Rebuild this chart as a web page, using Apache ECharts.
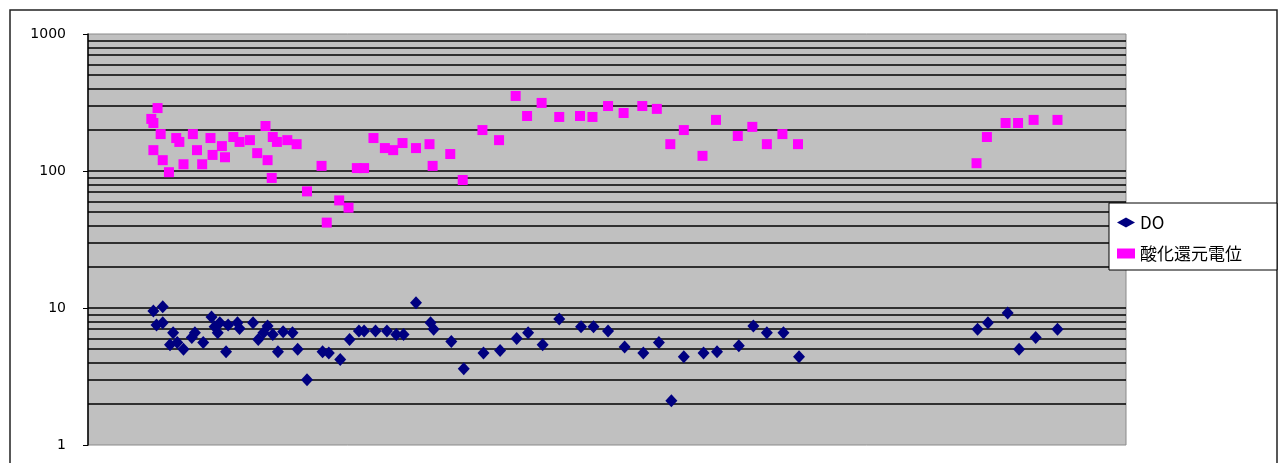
<!DOCTYPE html>
<html>
<head>
<meta charset="utf-8">
<script src="https://cdn.jsdelivr.net/npm/echarts@6/dist/echarts.min.js"></script>
<style>
html,body{margin:0;padding:0;background:#fff;}
#chart{width:1286px;height:463px;}
</style>
</head>
<body>
<div id="chart"></div>
<script>
// Series names
const seriesNames = ['DO', '酸化還元電位'];

// DO (sample position, value)
const doX = [6.3, 7.2, 6.6, 7.2, 8.2, 8.6, 7.9, 9.2, 10.3, 10.0, 11.1, 11.9, 12.2, 12.5, 12.7, 13.3, 13.5, 14.4, 14.6, 15.9, 16.4, 16.9, 17.3, 17.8, 18.8, 19.7, 18.3, 20.2, 21.1, 22.6, 23.2, 24.3, 25.2, 26.1, 26.6, 27.7, 28.8, 29.7, 30.4, 31.6, 33.0, 33.3, 35.0, 36.2, 38.1, 39.7, 41.3, 42.4, 43.8, 45.4, 47.5, 48.7, 50.1, 51.7, 53.5, 55.0, 56.2, 57.4, 59.3, 60.6, 62.7, 64.1, 65.4, 67.0, 68.5, 85.7, 86.7, 88.6, 89.7, 91.3, 93.4];
const doY = [9.5, 10.2, 7.5, 7.8, 6.6, 5.6, 5.4, 5.0, 6.6, 6.1, 5.6, 8.6, 7.3, 6.6, 7.8, 4.8, 7.5, 7.8, 7.1, 7.8, 5.9, 6.6, 7.4, 6.4, 6.7, 6.6, 4.8, 5.0, 3.0, 4.8, 4.7, 4.2, 5.9, 6.8, 6.8, 6.8, 6.8, 6.4, 6.4, 10.9, 7.8, 7.0, 5.7, 3.6, 4.7, 4.9, 6.0, 6.6, 5.4, 8.3, 7.3, 7.3, 6.8, 5.2, 4.7, 5.6, 2.1, 4.4, 4.7, 4.8, 5.3, 7.4, 6.6, 6.6, 4.4, 7.0, 7.8, 9.2, 5.0, 6.1, 7.0];

// 酸化還元電位 (sample position, value)
const orpX = [6.1, 6.3, 6.7, 6.3, 7.0, 7.2, 7.8, 8.5, 8.8, 9.2, 10.1, 10.5, 11.0, 11.8, 12.0, 12.9, 13.2, 14.0, 14.6, 15.6, 16.3, 17.1, 17.3, 17.8, 18.2, 17.7, 19.2, 20.1, 21.1, 22.5, 23.0, 24.2, 25.1, 25.9, 26.6, 27.5, 28.6, 29.4, 30.3, 31.6, 32.9, 33.2, 34.9, 36.1, 38.0, 39.6, 41.2, 42.3, 43.7, 45.4, 47.4, 48.6, 50.1, 51.6, 53.4, 54.8, 56.1, 57.4, 59.2, 60.5, 62.6, 64.0, 65.4, 66.9, 68.4, 85.6, 86.6, 88.4, 89.6, 91.1, 93.4];
const orpY = [240, 224, 288, 142, 186, 120, 98, 174, 163, 112, 186, 142, 112, 174, 131, 152, 126, 177, 163, 168, 135, 213, 120, 177, 163, 89, 168, 157, 71, 109, 42, 61, 54, 105, 105, 174, 147, 142, 160, 147, 157, 109, 133, 86, 199, 168, 353, 252, 314, 248, 252, 248, 298, 265, 298, 284, 157, 199, 129, 236, 180, 210, 157, 186, 157, 114, 177, 224, 224, 236, 236];

// Horizontal gridlines (log scale, 2..9 per decade plus decades)
const gridValues = [2, 3, 4, 5, 6, 7, 8, 9, 10, 20, 30, 40, 50, 60, 70, 80, 90, 100, 200, 300, 400, 500, 600, 700, 800, 900];

// Y tick labels
const yTicks = [1, 10, 100, 1000];

const chart = echarts.init(document.getElementById('chart'), null, {renderer: 'canvas'});

const doData = doX.map((x, i) => [x, doY[i]]);
const orpData = orpX.map((x, i) => [x, orpY[i]]);

const option = {
  animation: false,
  backgroundColor: '#ffffff',
  graphic: [
    {type: 'rect', z: 0, shape: {x: 10, y: 10, width: 1267, height: 470}, style: {fill: 'none', stroke: '#222', lineWidth: 1.5}},
    {type: 'rect', z: 10, shape: {x: 1109, y: 203, width: 168, height: 67}, style: {fill: '#ffffff', stroke: '#000', lineWidth: 1}}
  ],
  legend: {
    orient: 'vertical',
    left: 1112,
    top: 209,
    z: 20,
    itemWidth: 18,
    itemHeight: 10,
    itemGap: 14,
    textStyle: {fontFamily: 'Noto Sans CJK JP', fontSize: 17, color: '#000'},
    data: [
      {name: seriesNames[0], icon: 'diamond'},
      {name: seriesNames[1], icon: 'rect'}
    ]
  },
  grid: {
    left: 88, right: 160, top: 34, bottom: 18,
    show: true,
    backgroundColor: '#c0c0c0',
    borderColor: '#8a8a8a',
    borderWidth: 1
  },
  xAxis: {
    type: 'value', min: 0, max: 100,
    show: false
  },
  yAxis: {
    type: 'log', logBase: 10, min: 1, max: 1000,
    axisLine: {show: true, lineStyle: {color: '#000', width: 1.5}},
    axisTick: {show: true, length: 5, lineStyle: {color: '#000'}},
    splitLine: {show: false},
    axisLabel: {
      margin: 22, fontSize: 14, color: '#000', fontFamily: 'DejaVu Sans',
      formatter: v => yTicks.includes(Math.round(v)) ? String(Math.round(v)) : ''
    }
  },
  series: [
    {
      name: '_grid', type: 'scatter', data: [], symbolSize: 0, silent: true,
      markLine: {
        z: 1, silent: true, symbol: ['none', 'none'], animation: false,
        label: {show: false},
        lineStyle: {color: '#000', width: 1.6, type: 'solid'},
        data: gridValues.map(v => ({yAxis: v}))
      }
    },
    {
      name: seriesNames[0], type: 'scatter', z: 3,
      symbol: 'diamond', symbolSize: [12, 13],
      itemStyle: {color: '#000080', opacity: 1},
      data: doData
    },
    {
      name: seriesNames[1], type: 'scatter', z: 3,
      symbol: 'rect', symbolSize: 10,
      itemStyle: {color: '#ff00ff', opacity: 1},
      data: orpData
    }
  ]
};

chart.setOption(option);
</script>
</body>
</html>
